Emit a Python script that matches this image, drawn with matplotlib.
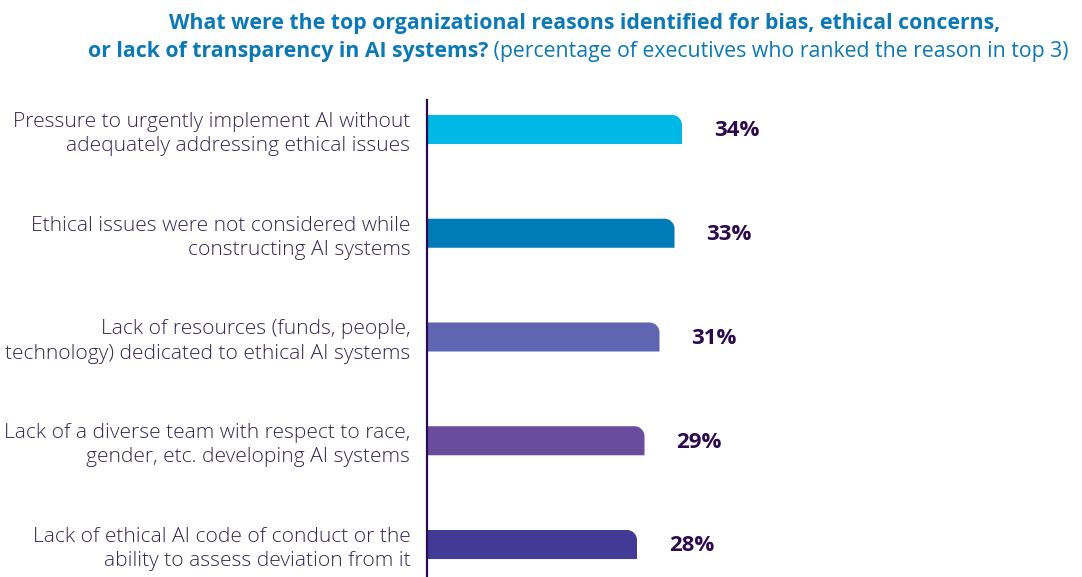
import matplotlib
matplotlib.use("Agg")
import matplotlib.pyplot as plt
from matplotlib.path import Path
from matplotlib.patches import PathPatch

categories = [
    "Pressure to urgently implement AI without\nadequately addressing ethical issues",
    "Ethical issues were not considered while\nconstructing AI systems",
    "Lack of resources (funds, people,\ntechnology) dedicated to ethical AI systems",
    "Lack of a diverse team with respect to race,\ngender, etc. developing AI systems",
    "Lack of ethical AI code of conduct or the\nability to assess deviation from it",
]
values = [34, 33, 31, 29, 28]
colors = ["#00b8e6", "#007bb7", "#5f65b0", "#6a4c9e", "#433996"]

FONT = "Open Sans"
TEXT_C = "#35254f"
VAL_C = "#2d0a4e"
TITLE_C = "#0a79b6"

W, H = 1082, 577
fig = plt.figure(figsize=(W / 100, H / 100), dpi=100)
ax = fig.add_axes([427 / W, 0, 1 - 427 / W, 1 - 100 / H])

ypos = list(range(len(values)))
bar_h = 0.28
bars = ax.barh(ypos, values, height=bar_h, color=colors)
xmax = (W - 427) / 7.5
ax.set_xlim(0, xmax)
ax.set_ylim(4.313, -0.284)

# replace bars with top-right rounded versions
rx = 10 / 7.5
ry = 10 / 103.75
k = 0.5523
for b, c in zip(bars, colors):
    x0, y0 = b.get_x(), b.get_y()
    w, h = b.get_width(), b.get_height()
    x1 = x0 + w
    ytop = y0          # smaller data y = visually top (inverted axis)
    ybot = y0 + h
    verts = [
        (x0, ybot), (x0, ytop), (x1 - rx, ytop),
        (x1 - rx + k * rx, ytop), (x1, ytop + ry - k * ry), (x1, ytop + ry),
        (x1, ybot), (x0, ybot),
    ]
    codes = [Path.MOVETO, Path.LINETO, Path.LINETO,
             Path.CURVE4, Path.CURVE4, Path.CURVE4,
             Path.LINETO, Path.CLOSEPOLY]
    b.set_visible(False)
    ax.add_patch(PathPatch(Path(verts, codes), facecolor=c, edgecolor="none"))
    ax.annotate(f"{int(w)}%", xy=(x1, b.get_y() + h / 2), xytext=(23, -1),
                textcoords="offset points", va="center", ha="left",
                fontsize=16, fontweight="bold", color=VAL_C, family=FONT)

ax.set_yticks(ypos)
ax.set_yticklabels(categories, fontsize=15.1, color=TEXT_C, family=FONT,
                   fontweight="light", linespacing=1.27)
ax.tick_params(axis="y", length=0, pad=12)
ax.set_xticks([])
for s in ["top", "right", "bottom"]:
    ax.spines[s].set_visible(False)
ax.spines["left"].set_color(VAL_C)
ax.spines["left"].set_linewidth(1.6)

# title
fig.text(585 / W, 1 - 23 / H,
         "What were the top organizational reasons identified for bias, ethical concerns,",
         ha="center", va="center", fontsize=15.3, fontweight="bold",
         color=TITLE_C, family=FONT)
t1 = fig.text(0, 1 - 51 / H, "or lack of transparency in AI systems?",
              ha="left", va="center", fontsize=15.3, fontweight="bold",
              color=TITLE_C, family=FONT)
t2 = fig.text(0, 1 - 51 / H, " (percentage of executives who ranked the reason in top 3)",
              ha="left", va="center", fontsize=15.3,
              color=TITLE_C, family=FONT)
r = fig.canvas.get_renderer()
w1 = t1.get_window_extent(r).width
w2 = t2.get_window_extent(r).width
start = 578 - (w1 + w2) / 2
t1.set_x(start / W)
t2.set_x((start + w1) / W)

fig.savefig("out.png", dpi=100)
